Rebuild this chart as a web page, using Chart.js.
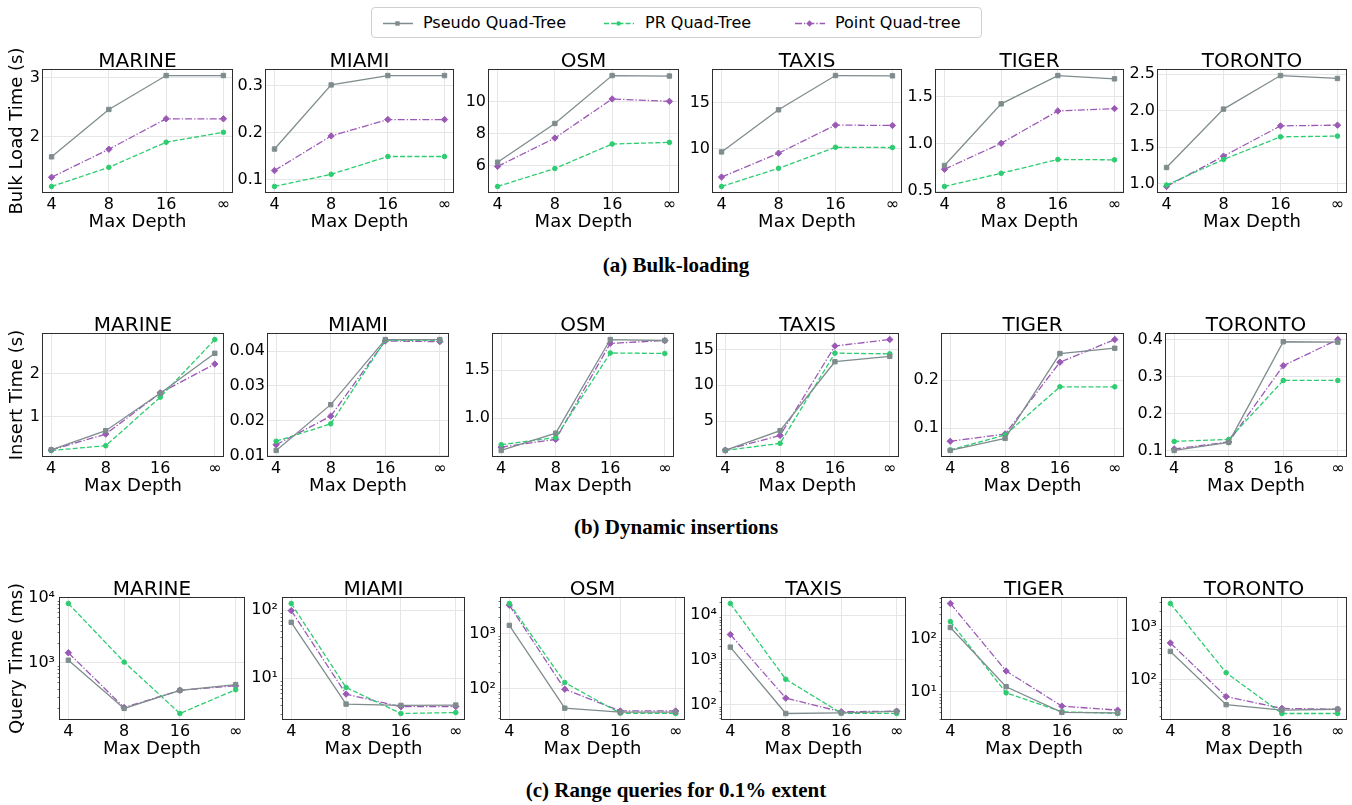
<!DOCTYPE html>
<html><head><meta charset="utf-8">
<script src="https://cdn.jsdelivr.net/npm/chart.js@4.4.1/dist/chart.umd.min.js"></script>
<style>
body{margin:0;background:#fff;}
#root{position:relative;width:1352px;height:805px;overflow:hidden;background:#fff;font-family:'DejaVu Sans';}
#root canvas{position:absolute;}
.cap{position:absolute;left:0;width:1352px;text-align:center;font-family:'Liberation Serif';font-weight:bold;font-size:21px;line-height:24px;color:#000;}
#legend{position:absolute;left:371px;top:7px;width:609px;height:29px;border:1px solid #d0d0d0;border-radius:4px;background:#fff;}
.li{position:absolute;top:0;height:29px;font-size:16px;line-height:29px;color:#000;white-space:nowrap;}
.li svg{position:absolute;top:9px;}
</style></head><body><div id="root">
<div id="legend"></div>
<div class="cap" style="top:253px">(a) Bulk-loading</div>
<div class="cap" style="top:515px">(b) Dynamic insertions</div>
<div class="cap" style="top:778px">(c) Range queries for 0.1% extent</div>
</div>
<script>
// ---------------- DATA ----------------
const depths = ['4', '8', '16', '∞'];
const datasetNames = ['MARINE', 'MIAMI', 'OSM', 'TAXIS', 'TIGER', 'TORONTO'];
const seriesNames = ['Pseudo Quad-Tree', 'PR Quad-Tree', 'Point Quad-tree'];

// (a) Bulk load time (s), one row per dataset
const bulkPseudo = [
  [1.65, 2.46, 3.04, 3.04],
  [0.165, 0.302, 0.322, 0.322],
  [6.22, 8.64, 11.63, 11.60],
  [9.68, 14.2, 17.88, 17.85],
  [0.772, 1.425, 1.725, 1.69],
  [1.22, 2.02, 2.48, 2.44]
];
const bulkPR = [
  [1.143, 1.47, 1.90, 2.07],
  [0.085, 0.111, 0.149, 0.149],
  [4.71, 5.83, 7.36, 7.46],
  [5.97, 7.92, 10.18, 10.15],
  [0.55, 0.69, 0.836, 0.832],
  [0.98, 1.33, 1.64, 1.65]
];
const bulkPoint = [
  [1.30, 1.78, 2.30, 2.30],
  [0.119, 0.193, 0.228, 0.228],
  [5.96, 7.73, 10.17, 10.02],
  [6.98, 9.54, 12.56, 12.52],
  [0.732, 1.007, 1.35, 1.375],
  [0.96, 1.375, 1.79, 1.80]
];

// (b) Insert time (s)
const insertPseudo = [
  [0.234, 0.68, 1.55, 2.48],
  [0.01145, 0.0246, 0.0433, 0.0433],
  [0.665, 0.845, 1.82, 1.81],
  [0.9, 3.67, 13.3, 14.05],
  [0.054, 0.079, 0.255, 0.266],
  [0.100, 0.122, 0.395, 0.394]
];
const insertPR = [
  [0.22, 0.33, 1.46, 2.80],
  [0.0141, 0.0191, 0.0431, 0.0431],
  [0.725, 0.80, 1.68, 1.675],
  [0.9, 1.89, 14.5, 14.4],
  [0.055, 0.086, 0.186, 0.186],
  [0.1245, 0.130, 0.290, 0.290]
];
const insertPoint = [
  [0.23, 0.60, 1.56, 2.23],
  [0.0131, 0.0213, 0.0429, 0.0427],
  [0.70, 0.78, 1.78, 1.81],
  [0.95, 3.0, 15.5, 16.4],
  [0.073, 0.088, 0.237, 0.284],
  [0.104, 0.123, 0.330, 0.401]
];

// (c) Query time (ms), log scale
const queryPseudo = [
  [1100, 200, 379, 465],
  [66.5, 4.13, 3.95, 4.0],
  [1420, 45, 38, 38],
  [1930, 63, 65, 70],
  [165, 12.3, 4.0, 3.9],
  [341, 33, 26, 27]
];
const queryPR = [
  [8170, 1030, 167, 388],
  [126, 7.26, 3.0, 3.1],
  [3530, 131, 36.4, 36],
  [18300, 368, 64, 63],
  [214, 9.4, 4.1, 3.8],
  [2790, 134, 22.4, 22.4]
];
const queryPoint = [
  [1430, 206, 379, 445],
  [99, 5.8, 3.78, 3.8],
  [3290, 99, 40, 40],
  [3700, 139, 69, 71],
  [473, 24.5, 5.25, 4.4],
  [494, 47, 28, 27]
];

// Tick labels
const bulkTicks = [['2', '3'], ['0.1', '0.2', '0.3'], ['6', '8', '10'], ['10', '15'], ['0.5', '1.0', '1.5'], ['1.0', '1.5', '2.0', '2.5']];
const insertTicks = [['1', '2'], ['0.01', '0.02', '0.03', '0.04'], ['1.0', '1.5'], ['5', '10', '15'], ['0.1', '0.2'], ['0.1', '0.2', '0.3', '0.4']];
const queryTickExps = [[3, 4], [1, 2], [2, 3], [2, 3, 4], [1, 2], [2, 3]];

// ---------------- STYLE / LAYOUT ----------------
const seriesStyle = [
  {color: '#7f8c8d', dash: [], point: 'rect', r: 3.1},
  {color: '#2ecc71', dash: [5, 2.2], point: 'circle', r: 2.3},
  {color: '#9b59b6', dash: [7, 2, 1.3, 2], point: 'rectRot', r: 3.2}
];
const rows = [
  {top: 70, bottom: 192, lefts: [43, 266, 489, 713, 936, 1158], rights: [232, 453, 678, 901, 1123, 1346],
   ytitle: 'Bulk Load Time (s)', log: false, series: [bulkPseudo, bulkPR, bulkPoint], ticks: bulkTicks},
  {top: 334, bottom: 456, lefts: [43, 268, 493, 717, 942, 1166], rights: [223, 448, 673, 898, 1123, 1346],
   ytitle: 'Insert Time (s)', log: false, series: [insertPseudo, insertPR, insertPoint], ticks: insertTicks},
  {top: 598, bottom: 719, lefts: [60, 283, 501, 722, 942, 1162], rights: [244, 464, 684, 905, 1126, 1346],
   ytitle: 'Query Time (ms)', log: true, series: [queryPseudo, queryPR, queryPoint], ticks: null}
];

Chart.defaults.font.family = "'DejaVu Sans'";
Chart.defaults.color = '#000';

const supDigits = {'0': '⁰', '1': '¹', '2': '²', '3': '³', '4': '⁴', '5': '⁵'};

const framePlugin = {
  id: 'frame',
  afterDraw(chart) {
    const {ctx, chartArea: a} = chart;
    ctx.save();
    const ys = chart.scales.y;
    if (ys.type === 'logarithmic') {
      ctx.strokeStyle = '#333';
      ctx.lineWidth = 0.7;
      const lo = Math.floor(Math.log10(ys.min)), hi = Math.ceil(Math.log10(ys.max));
      for (let k = lo; k <= hi; k++) {
        for (let m = 2; m <= 9; m++) {
          const v = m * Math.pow(10, k);
          if (v < ys.min || v > ys.max) continue;
          const py = Math.round(ys.getPixelForValue(v)) + 0.5;
          ctx.beginPath();
          ctx.moveTo(a.left - 2.5, py);
          ctx.lineTo(a.left, py);
          ctx.stroke();
        }
      }
    }
    ctx.strokeStyle = '#2e2e2e';
    ctx.lineWidth = 1;
    ctx.strokeRect(Math.round(a.left) - 0.5, Math.round(a.top) - 0.5, Math.round(a.width) + 1, Math.round(a.height) + 1);
    ctx.restore();
  }
};

const root = document.getElementById('root');
const T = 25, B = 41;

rows.forEach((row, ri) => {
  datasetNames.forEach((name, ci) => {
    const pl = row.lefts[ci], pr = row.rights[ci], pt = row.top, pb = row.bottom;
    const L = ci === 0 ? pl - 7 : 60;
    const W = (pr - pl) + 2 * L;
    const H = T + (pb - pt) + B;
    const cv = document.createElement('canvas');
    cv.width = W; cv.height = H;
    cv.style.left = (pl - L) + 'px';
    cv.style.top = (pt - T) + 'px';
    cv.style.width = W + 'px'; cv.style.height = H + 'px';
    root.appendChild(cv);

    const all = [];
    row.series.forEach(s => all.push(...s[ci]));
    let ymin, ymax, tickVals, tickLabels;
    if (row.log) {
      const lmin = Math.log10(Math.min(...all)), lmax = Math.log10(Math.max(...all));
      const m = (lmax - lmin) * 0.05;
      ymin = Math.pow(10, lmin - m); ymax = Math.pow(10, lmax + m);
      tickVals = queryTickExps[ci].map(e => Math.pow(10, e));
      tickLabels = queryTickExps[ci].map(e => '10' + supDigits[String(e)]);
    } else {
      const mn = Math.min(...all), mx = Math.max(...all);
      const m = (mx - mn) * 0.05;
      ymin = mn - m; ymax = mx + m;
      tickLabels = row.ticks[ci];
      tickVals = tickLabels.map(Number);
    }

    const gridCfg = {color: '#e6e6e6', lineWidth: 1, drawTicks: false};
    new Chart(cv, {
      type: 'line',
      data: {
        datasets: row.series.map((s, si) => ({
          label: seriesNames[si],
          data: s[ci].map((v, i) => ({x: i, y: v})),
          borderColor: seriesStyle[si].color,
          backgroundColor: seriesStyle[si].color,
          borderWidth: 1.3,
          borderDash: seriesStyle[si].dash,
          pointStyle: seriesStyle[si].point,
          pointRadius: seriesStyle[si].r,
          pointBorderWidth: 1,
          pointBackgroundColor: seriesStyle[si].color,
          pointBorderColor: seriesStyle[si].color,
          tension: 0,
          fill: false,
          yAxisID: 'y'
        }))
      },
      options: {
        responsive: false,
        animation: false,
        devicePixelRatio: 1,
        events: [],
        layout: {padding: 0},
        plugins: {
          legend: {display: false},
          tooltip: {enabled: false},
          title: {display: true, text: name, color: '#000', font: {size: 20, lineHeight: 0.85, weight: 'normal'}, padding: {top: 8, bottom: 0}}
        },
        scales: {
          x: {
            type: 'linear', min: -0.15, max: 3.15,
            afterBuildTicks(s) { s.ticks = depths.map((_, i) => ({value: i})); },
            afterFit(s) { s.height = B; s.paddingLeft = 0; s.paddingRight = 0; },
            ticks: {callback: (v, i) => depths[i], font: {size: 16, lineHeight: 1}, padding: 5, maxRotation: 0, autoSkip: false, color: '#000'},
            grid: gridCfg,
            border: {display: false},
            title: {display: true, text: 'Max Depth', font: {size: 18, lineHeight: 1.2}, padding: 0, color: '#000'}
          },
          y: {
            type: row.log ? 'logarithmic' : 'linear',
            position: 'left',
            min: ymin, max: ymax,
            afterBuildTicks(s) { s.ticks = tickVals.map(v => ({value: v})); },
            afterFit(s) { s.width = L; s.paddingTop = 0; s.paddingBottom = 0; },
            ticks: {callback: (v, i) => tickLabels[i], font: {size: 16, lineHeight: 1}, padding: row.log ? 5 : 3, autoSkip: false, color: '#000'},
            grid: gridCfg,
            border: {display: false},
            title: {display: ci === 0, text: row.ytitle, font: {size: 18, lineHeight: 1.2}, padding: 0, color: '#000'}
          },
          yR: {
            type: 'linear', position: 'right', display: true,
            min: 0, max: 1,
            afterFit(s) { s.width = L; s.paddingTop = 0; s.paddingBottom = 0; },
            ticks: {display: false},
            grid: {display: false, drawTicks: false},
            border: {display: false}
          }
        }
      },
      plugins: [framePlugin]
    });
  });
});

// ---------------- LEGEND ----------------
const legend = document.getElementById('legend');
const legendPos = [{s: 11, t: 51}, {s: 232, t: 273}, {s: 423, t: 463}];
seriesNames.forEach((nm, si) => {
  const st = seriesStyle[si];
  const item = document.createElement('div');
  item.className = 'li';
  item.style.left = legendPos[si].s + 'px';
  let marker;
  if (st.point === 'rect') marker = `<rect x="12.3" y="4.3" width="4.4" height="4.4" fill="${st.color}"/>`;
  else if (st.point === 'circle') marker = `<circle cx="14.5" cy="6.5" r="2.3" fill="${st.color}"/>`;
  else marker = `<polygon points="14.5,3.3 17.7,6.5 14.5,9.7 11.3,6.5" fill="${st.color}"/>`;
  const dash = st.dash.length ? `stroke-dasharray="${st.dash.join(' ')}"` : '';
  item.innerHTML = `<svg width="30" height="13" style="left:0"><line x1="0" y1="6.5" x2="30" y2="6.5" stroke="${st.color}" stroke-width="1.5" ${dash}/>${marker}</svg><span style="position:absolute;left:${legendPos[si].t - legendPos[si].s}px">${nm}</span>`;
  legend.appendChild(item);
});
</script>
</body></html>
